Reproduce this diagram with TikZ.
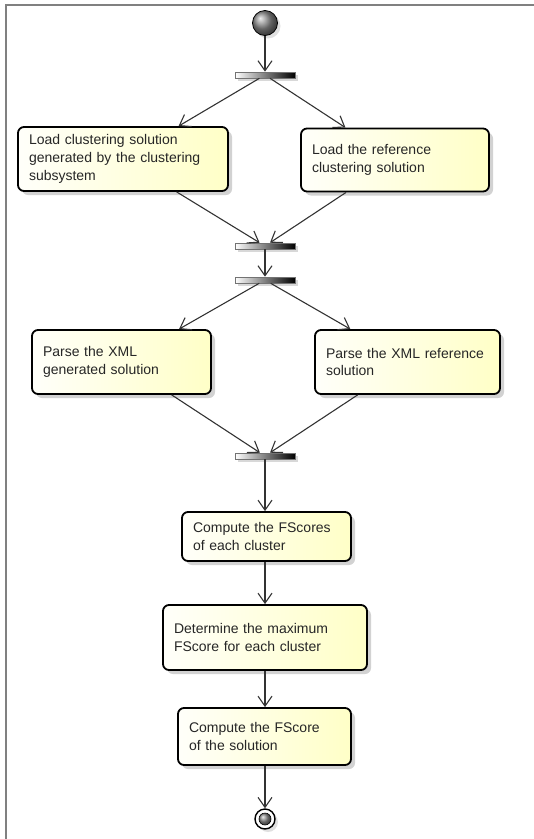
\documentclass[tikz,border=0pt]{standalone}
\usepackage{fontspec}
\setmainfont{Liberation Sans}
\usetikzlibrary{arrows.meta,shadows}

\begin{document}
\begin{tikzpicture}[
  x=1pt, y=-1pt,
  action/.style={rectangle,rounded corners=6pt,draw=black,line width=1.8pt,
    left color=yellow!2,right color=yellow!22,
    drop shadow={shadow xshift=4pt,shadow yshift=-4pt,fill=black!35,opacity=0.5},
    align=left,inner xsep=11pt,text=black!85,
    font=\fontsize{14}{17.7}\selectfont},
  syncbar/.style={rectangle,draw=black!55,line width=0.6pt,
    left color=white,right color=black,inner sep=0pt,
    minimum width=60pt,minimum height=6pt,
    drop shadow={shadow xshift=3pt,shadow yshift=-3pt,fill=black!30,opacity=0.5}},
  flow/.style={draw=black!80,line width=1.1pt,-{Straight Barb[length=10pt,width=14pt]}}
]
\useasboundingbox (0,0) rectangle (534,839);

% frame
\draw[black!50,line width=1.5pt] (534,5) -- (6,5) -- (6,839);

% start and end
\node[circle,draw=black,line width=0.8pt,minimum size=25pt,inner sep=0pt,
  ball color=black!45,
  drop shadow={shadow xshift=3pt,shadow yshift=-3pt,fill=black!30,opacity=0.4}]
  (start) at (265,23) {};
\node[circle,draw=black,line width=1.4pt,fill=white,minimum size=20pt,inner sep=0pt,
  drop shadow={shadow xshift=3pt,shadow yshift=-3pt,fill=black!30,opacity=0.4}]
  (stop) at (265,819) {};
\node[circle,draw=black,line width=0.6pt,minimum size=12pt,inner sep=0pt,
  ball color=black!45] at (stop) {};

% fork and join bars
\node[syncbar] (fork1) at (265,75) {};
\node[syncbar] (join1) at (265,246) {};
\node[syncbar] (fork2) at (265,280) {};
\node[syncbar] (join2) at (265,456) {};

% actions
\node[action,text width=188pt,minimum height=64pt] (loadgen) at (123,159)
  {Load clustering solution\\generated by the clustering\\subsystem};
\node[action,text width=166pt,minimum height=63pt] (loadref) at (395,160)
  {Load the reference\\clustering solution};
\node[action,text width=157pt,minimum height=64pt] (parsegen) at (121.5,362)
  {Parse the XML\\generated solution};
\node[action,text width=163pt,minimum height=64pt] (parseref) at (407.5,362)
  {Parse the XML reference\\solution};
\node[action,text width=147pt,minimum height=49pt] (scores) at (266.5,536.5)
  {Compute the FScores\\of each cluster};
\node[action,text width=182pt,minimum height=65pt] (maxscore) at (265,637.5)
  {Determine the maximum\\FScore for each cluster};
\node[action,text width=151pt,minimum height=57pt] (total) at (264.5,736.5)
  {Compute the FScore\\of the solution};

% flows
\draw[flow] (start) -- (fork1);
\draw[flow] (fork1) -- (loadgen);
\draw[flow] (fork1) -- (loadref);
\draw[flow] (loadgen) -- (join1);
\draw[flow] (loadref) -- (join1);
\draw[flow] (join1) -- (fork2);
\draw[flow] (fork2) -- (parsegen);
\draw[flow] (fork2) -- (parseref);
\draw[flow] (parsegen) -- (join2);
\draw[flow] (parseref) -- (join2);
\draw[flow] (join2) -- (join2 |- scores.north);
\draw[flow] (scores.south -| join2) -- (join2 |- maxscore.north);
\draw[flow] (maxscore.south -| join2) -- (join2 |- total.north);
\draw[flow] (total.south -| join2) -- (stop);

\end{tikzpicture}
\end{document}
